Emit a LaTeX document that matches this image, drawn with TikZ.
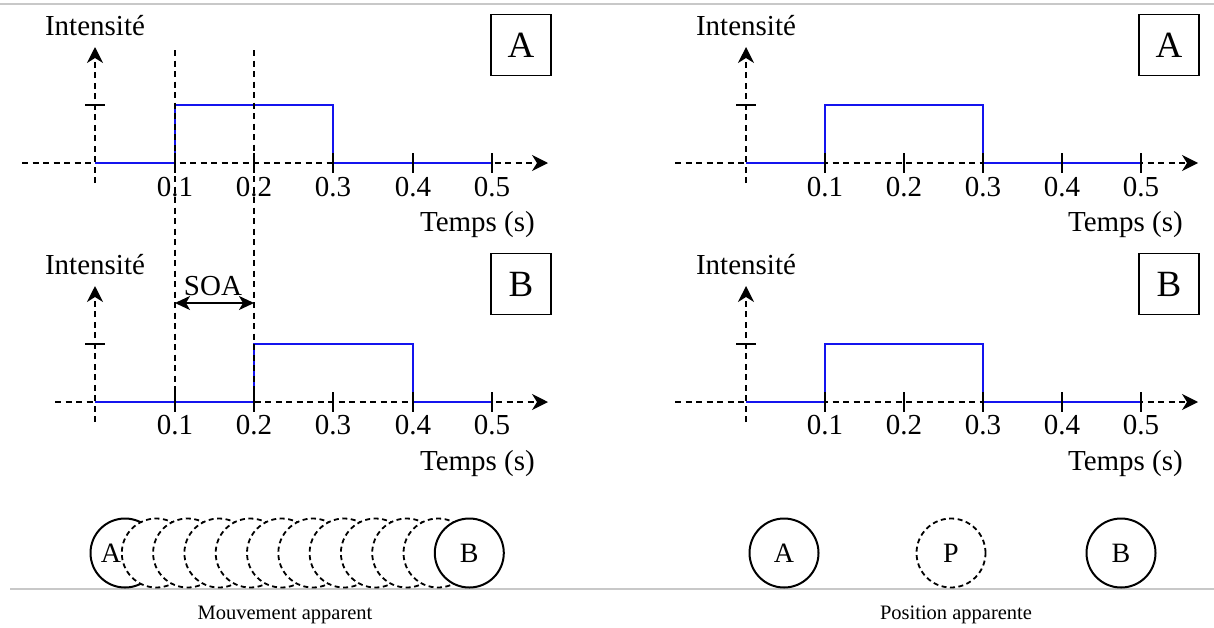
\documentclass[tikz,border=0pt]{standalone}
\usepackage{fontspec}
\setmainfont{Liberation Serif}
\usetikzlibrary{arrows.meta, positioning}
\definecolor{pulseblue}{HTML}{1414EE}
\definecolor{framegray}{HTML}{C8C8C8}

\begin{document}
\begin{tikzpicture}[
  x=1pt, y=-1pt,
  axis/.style={line width=1.4pt, dash pattern=on 6pt off 4.5pt, -{Stealth[length=16pt,width=16pt,inset=5pt]}},
  guide/.style={line width=1.3pt, dash pattern=on 6pt off 4.5pt},
  tickmark/.style={line width=1.4pt},
  signal/.style={draw=pulseblue, line width=2pt},
  panel/.style={draw, line width=1.5pt, minimum width=60pt, minimum height=61pt, inner sep=0pt,
    font=\fontsize{37}{40}\selectfont},
  lbl/.style={inner sep=0pt, anchor=base, font=\fontsize{29}{34}\selectfont},
  letter/.style={inner sep=0pt, font=\fontsize{28}{30}\selectfont},
  disk/.style={circle, draw, line width=2pt, fill=white, minimum size=69pt, inner sep=0pt, outer sep=0pt,
    font=\fontsize{28}{30}\selectfont},
  ghost/.style={disk, line width=1.8pt, dash pattern=on 5pt off 3.5pt},
  soa/.style={{Stealth[length=15pt,width=14pt,inset=4pt]}-{Stealth[length=15pt,width=14pt,inset=4pt]}, line width=2pt},
  caption/.style={inner sep=0pt, anchor=base, font=\fontsize{20.5}{24}\selectfont},
  frame/.style={draw=framegray, line width=1.3pt},
]
\useasboundingbox (0,0) rectangle (1214,627);

% frame lines of the figure
\draw[frame] (0,4) -- (1214,4);
\draw[frame] (10,589) -- (1214,589);

% left, stimulus A
\coordinate (laX0) at (22,163);
\coordinate (laX1) at (548,163);
\coordinate (laY0) at (95,183);
\coordinate (laY1) at (95,47);
\draw[axis] (laX0) -- (laX1);
\draw[axis] (laY0) -- (laY1);
\draw[signal] (95,163) -- (175,163) -- (175,105) -- (333,105) -- (333,163) -- (492,163);
\draw[tickmark] (85,105) -- (105,105)
  (175,153) -- (175,173) (254,153) -- (254,173) (333,153) -- (333,173)
  (413,153) -- (413,173) (492,153) -- (492,173);
\node[lbl] (la1) at (175,196) {0.1};
\node[lbl] (la2) at (254,196) {0.2};
\node[lbl] (la3) at (333,196) {0.3};
\node[lbl] (la4) at (413,196) {0.4};
\node[lbl] (la5) at (492,196) {0.5};
\node[lbl] (laI) at (95,35) {Intensité};
\node[lbl, anchor=base east] (laT) at (535,231) {Temps (s)};
\node[panel] (laBox) at (521,45) {A};

% left, stimulus B
\begin{scope}[shift={(0,239)}]
\coordinate (lbX0) at (55,163);
\coordinate (lbX1) at (548,163);
\coordinate (lbY0) at (95,183);
\coordinate (lbY1) at (95,47);
\draw[axis] (lbX0) -- (lbX1);
\draw[axis] (lbY0) -- (lbY1);
\draw[signal] (95,163) -- (254,163) -- (254,105) -- (413,105) -- (413,163) -- (492,163);
\draw[tickmark] (85,105) -- (105,105)
  (175,153) -- (175,173) (254,153) -- (254,173) (333,153) -- (333,173)
  (413,153) -- (413,173) (492,153) -- (492,173);
\node[lbl] (lb1) at (175,195) {0.1};
\node[lbl] (lb2) at (254,195) {0.2};
\node[lbl] (lb3) at (333,195) {0.3};
\node[lbl] (lb4) at (413,195) {0.4};
\node[lbl] (lb5) at (492,195) {0.5};
\node[lbl] (lbI) at (95,35) {Intensité};
\node[lbl, anchor=base east] (lbT) at (535,231) {Temps (s)};
\node[panel] (lbBox) at (521,45) {B};
\coordinate (soaL) at (175,64);
\coordinate (soaR) at (254,64);
\draw[soa] (soaL) -- (soaR);
\node[lbl] (soa) at (213,56) {SOA};
\end{scope}

% onset guides
\coordinate (g1top) at (175,50);
\coordinate (g1bot) at (175,412);
\coordinate (g2top) at (254,50);
\coordinate (g2bot) at (254,412);
\draw[guide] (g1top) -- (g1bot);
\draw[guide] (g2top) -- (g2bot);

% right, stimulus A
\coordinate (raX0) at (675,163);
\coordinate (raX1) at (1198,163);
\coordinate (raY0) at (746,183);
\coordinate (raY1) at (746,47);
\draw[axis] (raX0) -- (raX1);
\draw[axis] (raY0) -- (raY1);
\draw[signal] (746,163) -- (825,163) -- (825,105) -- (983,105) -- (983,163) -- (1141,163);
\draw[tickmark] (736,105) -- (756,105)
  (825,153) -- (825,173) (904,153) -- (904,173) (983,153) -- (983,173)
  (1062,153) -- (1062,173) (1141,153) -- (1141,173);
\node[lbl] (ra1) at (825,196) {0.1};
\node[lbl] (ra2) at (904,196) {0.2};
\node[lbl] (ra3) at (983,196) {0.3};
\node[lbl] (ra4) at (1062,196) {0.4};
\node[lbl] (ra5) at (1141,196) {0.5};
\node[lbl] (raI) at (746,35) {Intensité};
\node[lbl, anchor=base east] (raT) at (1183,231) {Temps (s)};
\node[panel] (raBox) at (1169,45) {A};

% right, stimulus B
\begin{scope}[shift={(0,239)}]
\coordinate (rbX0) at (675,163);
\coordinate (rbX1) at (1198,163);
\coordinate (rbY0) at (746,183);
\coordinate (rbY1) at (746,47);
\draw[axis] (rbX0) -- (rbX1);
\draw[axis] (rbY0) -- (rbY1);
\draw[signal] (746,163) -- (825,163) -- (825,105) -- (983,105) -- (983,163) -- (1141,163);
\draw[tickmark] (736,105) -- (756,105)
  (825,153) -- (825,173) (904,153) -- (904,173) (983,153) -- (983,173)
  (1062,153) -- (1062,173) (1141,153) -- (1141,173);
\node[lbl] (rb1) at (825,195) {0.1};
\node[lbl] (rb2) at (904,195) {0.2};
\node[lbl] (rb3) at (983,195) {0.3};
\node[lbl] (rb4) at (1062,195) {0.4};
\node[lbl] (rb5) at (1141,195) {0.5};
\node[lbl] (rbI) at (746,35) {Intensité};
\node[lbl, anchor=base east] (rbT) at (1183,231) {Temps (s)};
\node[panel] (rbBox) at (1169,45) {B};
\end{scope}

% apparent motion
\node[disk] (mA) at (125,553) {};
\node[ghost, right=-37.7pt of mA] (m1) {};
\node[ghost, right=-37.7pt of m1] (m2) {};
\node[ghost, right=-37.7pt of m2] (m3) {};
\node[ghost, right=-37.7pt of m3] (m4) {};
\node[ghost, right=-37.7pt of m4] (m5) {};
\node[ghost, right=-37.7pt of m5] (m6) {};
\node[ghost, right=-37.7pt of m6] (m7) {};
\node[ghost, right=-37.7pt of m7] (m8) {};
\node[ghost, right=-37.7pt of m8] (m9) {};
\node[ghost, right=-37.7pt of m9] (m10) {};
\node[disk, right=-37.7pt of m10] (mB) {B};
\node[letter] (mAlbl) at ([xshift=-14pt]mA.center) {A};
\node[caption] (capL) at (285,619) {Mouvement apparent};

% apparent position
\node[disk] (pA) at (784,553) {A};
\node[ghost, right=98pt of pA] (pP) {P};
\node[disk, right=101pt of pP] (pB) {B};
\node[caption] (capR) at (956,619) {Position apparente};

\end{tikzpicture}
\end{document}
